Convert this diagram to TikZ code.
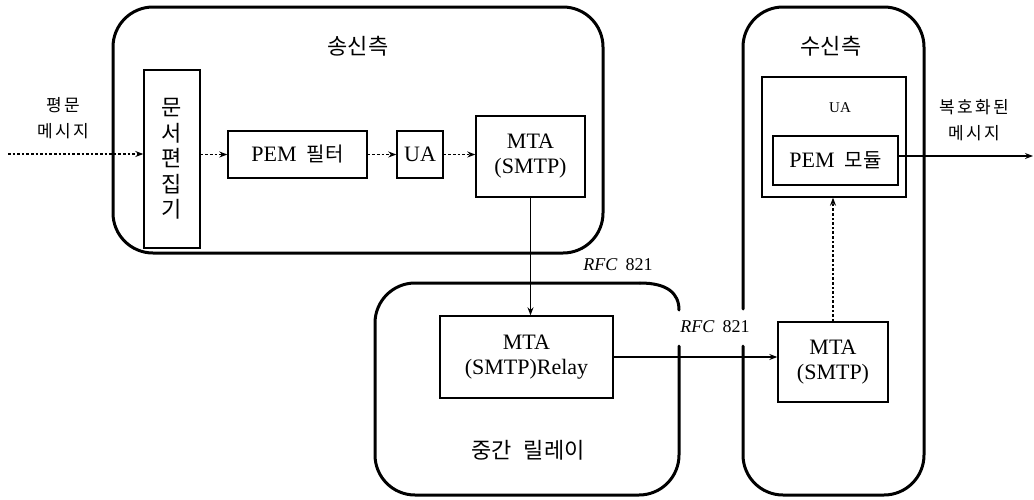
\documentclass[tikz,border=0pt]{standalone}
\usepackage{fontspec}
\setmainfont{Liberation Serif}
\newfontfamily\kr{Noto Sans CJK KR}
\usetikzlibrary{arrows.meta}

\begin{document}
\begin{tikzpicture}[x=0.5pt,y=-0.5pt,
  container/.style={line width=1.5pt, line cap=round},
  box/.style={draw, line width=0.7pt, inner sep=0pt, align=center,
    font=\fontsize{11}{12.5}\selectfont},
  flow/.style={line width=0.6pt, -{Stealth[length=4pt,width=3pt]}},
  dotflow/.style={flow, dash pattern=on 1.3pt off 1pt},
  krlabel/.style={font=\kr\fontsize{11}{13}\selectfont, inner sep=0pt},
  sidelabel/.style={font=\kr\fontsize{8.5}{13}\selectfont\addfontfeature{LetterSpace=14},
    inner sep=0pt, align=center},
  rfc/.style={font=\fontsize{9}{10}\selectfont, inner sep=0pt},
]
\useasboundingbox (0,0) rectangle (1034,499);

% --- sending side, relay and receiving side ---
\draw[container, rounded corners=20pt] (113,7) rectangle (603,253);
\draw[container, rounded corners=20pt]
  (679,346) -- (679,495) -- (375,495) -- (375,283) -- (640,283);
\draw[container] (640,283) .. controls (667,283) and (679,293) .. (679,310);
\draw[container, rounded corners=20pt]
  (743,346) -- (743,495) -- (924,495) -- (924,7) -- (743,7) -- (743,309);

\node[krlabel] (send) at (358,46) {송신측};
\node[krlabel] (recv) at (831,46) {수신측};
\node[krlabel] (mid) at (528,450) {중간\hspace{6pt}릴레이};

% --- sending side components ---
\node[box, font=\kr\fontsize{11}{12.75}\selectfont,
  minimum width=28pt, minimum height=89pt] (edit) at (172,159) {문\\서\\편\\집\\기};
\node[box, minimum width=69.5pt, minimum height=23.5pt] (pem) at (297.5,154.5)
  {PEM\hspace{5pt}{\kr\fontsize{10}{12}\selectfont 필터}};
\node[box, minimum width=23pt, minimum height=23.5pt] (ua1) at (420,154.5) {UA};
\node[box, minimum width=54.5pt, minimum height=40.5pt] (mta1) at (530.5,156.5) {MTA\\(SMTP)};

% --- relay and receiving side components ---
\node[box, minimum width=86.5pt, minimum height=41pt] (relay) at (526.5,357) {MTA\\(SMTP)Relay};
\node[box, minimum width=55pt, minimum height=40pt] (rmta) at (833,362) {MTA\\(SMTP)};
\node[box, minimum width=72pt, minimum height=60pt] (ua2) at (834,137) {};
\node[font=\fontsize{7.5}{8}\selectfont, inner sep=0pt] (ua2label) at (840,108) {UA};
\node[box, minimum width=62.5pt, minimum height=24.5pt] (pemmod) at (835.5,160.5)
  {PEM\hspace{5pt}{\kr\fontsize{10}{12}\selectfont 모듈}};

% --- side labels ---
\node[sidelabel] (plain) at (63,118) {평문\\메시지};
\node[sidelabel] (dec) at (974,120) {복호화된\\메시지};
\node[rfc] (rfc1) at (618,265) {\textit{RFC}\hspace{4pt}821};
\node[rfc] (rfc2) at (715,327) {\textit{RFC}\hspace{4pt}821};

% --- message flow ---
\coordinate (inStart) at (8,154);
\coordinate (outEnd) at (1033,156);
\draw[dotflow] (inStart) -- (inStart -| edit.west);
\draw[dotflow] (edit.east |- pem.west) -- (pem.west);
\draw[dotflow] (pem.east) -- (ua1.west);
\draw[dotflow] (ua1.east) -- (ua1.east -| mta1.west);
\draw[flow] (mta1.south) -- (mta1.south |- relay.north);
\draw[flow] (relay.east) -- (relay.east -| rmta.west);
\draw[dotflow] (rmta.north) -- (rmta.north |- ua2.south);
\draw[flow] (pemmod.east |- outEnd) -- (outEnd);
\end{tikzpicture}
\end{document}
